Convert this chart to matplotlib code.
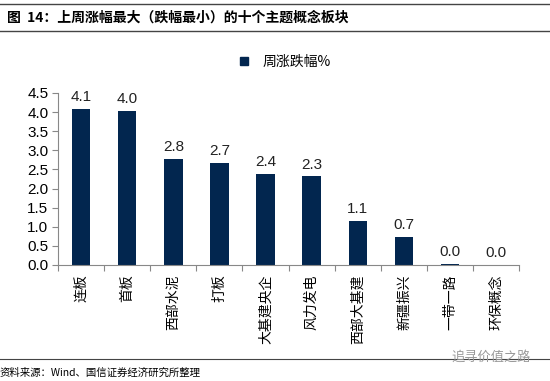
import matplotlib
matplotlib.use('Agg')
import matplotlib.pyplot as plt
from matplotlib.lines import Line2D

plt.rcParams['font.family'] = ['Liberation Sans', 'Noto Sans CJK SC', 'DejaVu Sans']

categories = ['连板', '首板', '西部水泥', '打板', '大基建央企', '风力发电',
              '西部大基建', '新疆振兴', '一带一路', '环保概念']
values = [4.08, 4.03, 2.78, 2.68, 2.38, 2.32, 1.15, 0.73, 0.03, 0.0]
labels = ['4.1', '4.0', '2.8', '2.7', '2.4', '2.3', '1.1', '0.7', '0.0', '0.0']
yticks = [0.0, 0.5, 1.0, 1.5, 2.0, 2.5, 3.0, 3.5, 4.0, 4.5]

navy = '#02264F'

fig = plt.figure(figsize=(5.5, 3.81), dpi=100)
ax = fig.add_axes([0.1055, 0.3045, 0.8385, 0.4515])

x = list(range(len(categories)))
ax.bar(x, values, width=0.4, color=navy, label='周涨跌幅%')
for xi, v, t in zip(x, values, labels):
    ax.text(xi, v + 0.12, t, ha='center', va='bottom', fontsize=11, color='#222222')

ax.set_xlim(-0.5, len(categories) - 0.5)
ax.set_ylim(0, 4.5)
ax.set_yticks(yticks)
ax.set_yticklabels(['%.1f' % t for t in yticks], fontsize=11)
ax.set_xticks([i - 0.5 for i in range(len(categories) + 1)], minor=False)
ax.set_xticklabels([])
ax.set_xticks(x, minor=True)
ax.set_xticklabels(categories, minor=True, rotation=90, fontsize=10,
                   family=['Noto Sans CJK SC'], va='top')
ax.tick_params(axis='x', which='minor', length=0, pad=7)
ax.tick_params(axis='x', which='major', length=4, color='#888888', direction='out')
ax.tick_params(axis='y', length=4, color='#888888', direction='out', pad=3)
for s in ['top', 'right']:
    ax.spines[s].set_visible(False)
ax.spines['left'].set_color('#888888')
ax.spines['bottom'].set_color('#888888')

handle = Line2D([], [], marker='s', color='none', markerfacecolor=navy,
                markeredgecolor=navy, markersize=6)
fig.legend([handle], ['周涨跌幅%'], loc='center', bbox_to_anchor=(0.51, 0.838),
           frameon=False, prop={'family': ['Noto Sans CJK SC'], 'size': 10},
           handletextpad=0.3)

# title and frame lines
fig.add_artist(Line2D([0.0, 1.0], [0.99, 0.99], color='#444444', lw=1.0))
fig.add_artist(Line2D([0.0, 1.0], [0.918, 0.918], color='#444444', lw=1.0))
fig.text(0.012, 0.953, '图  14：上周涨幅最大（跌幅最小）的十个主题概念板块', fontsize=10,
         fontweight='bold', va='center', family=['Noto Sans CJK SC'])
fig.add_artist(Line2D([0.0, 1.0], [0.057, 0.057], color='#444444', lw=0.8))
fig.text(0.0, 0.022, '资料来源：Wind、国信证券经济研究所整理', fontsize=7.5,
         va='center', family=['Noto Sans CJK SC'])
fig.text(0.965, 0.062, '追寻价值之路', fontsize=9.5, color='#999999',
         ha='right', va='center', family=['Noto Sans CJK SC'])

fig.savefig('out.png', dpi=100)
